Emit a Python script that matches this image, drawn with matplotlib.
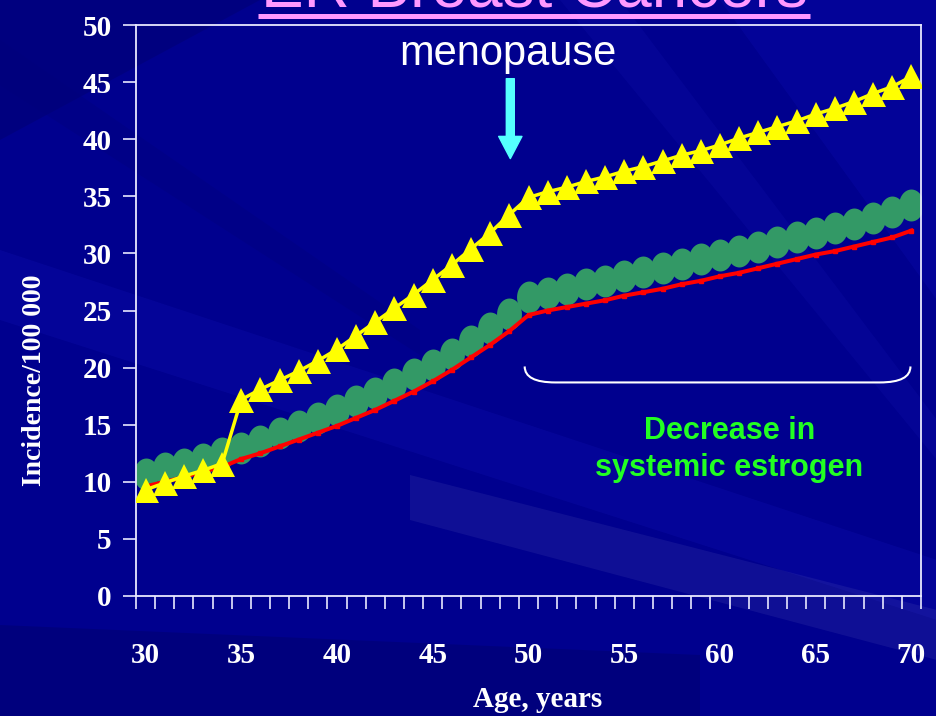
import matplotlib.pyplot as plt
import numpy as np
from matplotlib.path import Path
from matplotlib.patches import Polygon, PathPatch

# Incidence per 100 000 by age
ages = list(range(30, 71))
yellow_vals = [9.3, 9.9, 10.5, 11.0, 11.6, 17.2, 18.1, 18.9, 19.7, 20.6,
               21.6, 22.8, 24.0, 25.2, 26.4, 27.7, 29.0, 30.4, 31.8, 33.4,
               34.9, 35.4, 35.8, 36.3, 36.7, 37.2, 37.6, 38.1, 38.6, 39.0,
               39.5, 40.1, 40.6, 41.1, 41.6, 42.2, 42.7, 43.3, 44.0, 44.6, 45.5]
green_vals = [10.7, 11.2, 11.6, 12.0, 12.5, 13.0, 13.6, 14.3, 14.9, 15.6,
              16.3, 17.1, 17.8, 18.6, 19.4, 20.2, 21.2, 22.3, 23.5, 24.7,
              26.2, 26.5, 26.9, 27.3, 27.6, 28.0, 28.4, 28.7, 29.1, 29.5,
              29.9, 30.2, 30.6, 31.0, 31.4, 31.8, 32.2, 32.6, 33.1, 33.6, 34.2]
red_vals = [9.6, 10.0, 10.4, 10.9, 11.3, 12.0, 12.5, 13.1, 13.7, 14.3,
            14.9, 15.6, 16.3, 17.1, 17.9, 18.8, 19.8, 20.9, 22.0, 23.2,
            24.6, 25.0, 25.3, 25.6, 25.9, 26.3, 26.6, 26.9, 27.3, 27.6,
            28.0, 28.3, 28.7, 29.1, 29.5, 29.9, 30.2, 30.6, 31.0, 31.4, 32.0]

x_labels = [30, 35, 40, 45, 50, 55, 60, 65, 70]
y_ticks = list(range(0, 51, 5))

serif = {'family': 'Liberation Serif', 'weight': 'bold', 'color': 'white'}
BG = '#00008e'

fig = plt.figure(figsize=(9.37, 7.16), dpi=100)
fig.patch.set_facecolor(BG)

# slide background with faint diagonal rays (pixel coordinates)
bg = fig.add_axes([0, 0, 1, 1], zorder=-5)
bg.set_xlim(0, 937)
bg.set_ylim(716, 0)
bg.axis('off')
bg.add_patch(Polygon([(0, 0), (937, 0), (937, 716), (0, 716)], color=BG))
rays = [
    ([(0, 0), (260, 0), (0, 140)], '#000072', 0.5),
    ([(0, 250), (937, 560), (937, 620), (0, 320)], '#1010b0', 0.3),
    ([(410, 475), (937, 610), (937, 660), (410, 520)], '#7070c0', 0.14),
    ([(0, 625), (700, 655), (700, 716), (0, 716)], '#00006a', 0.45),
    ([(720, 0), (937, 0), (937, 300)], '#0a0aa8', 0.4),
    ([(560, 0), (620, 0), (937, 420), (937, 460)], '#1515b5', 0.2),
    ([(0, 40), (420, 330), (420, 355), (0, 85)], '#00007a', 0.35),
]
for pts, c, a in rays:
    bg.add_patch(Polygon(pts, closed=True, color=c, alpha=a, lw=0))

# title (cut off at the top of the slide) and its underline
fig.text(534 / 937, 1 - 8 / 716, 'ER Breast Cancers', ha='center', va='baseline',
         fontsize=46, family='Liberation Sans', color='#ff99ff')
bg.plot([258, 810], [16, 16], color='#ff99ff', lw=3.6, solid_capstyle='butt')

ax = fig.add_axes([136 / 937, 120 / 716, 785 / 937, 571 / 716])
ax.set_facecolor('none')

# tall ellipse marker for the green series
t = np.linspace(0, 2 * np.pi, 61)
ellipse = Path(np.column_stack([0.78 * np.cos(t), np.sin(t)]), closed=True)

ax.plot(ages, red_vals, color='#ff0000', lw=2.9, marker='s', ms=3.2, zorder=3)
ax.plot(ages, green_vals, color='#339966', lw=0, marker=ellipse, ms=23,
        markeredgewidth=0, zorder=2)
ax.plot(ages, yellow_vals, color='#ffff00', lw=2.5, marker='^', ms=18,
        markeredgewidth=0, zorder=4)

ax.set_xlim(29.5, 70.5)
ax.set_ylim(0, 50)

for s in ax.spines.values():
    s.set_color('#e8e8ff')
    s.set_linewidth(1.3)

ax.set_xticks(np.arange(29.5, 71, 1))
ax.set_xticklabels([])
ax.tick_params(axis='x', which='major', direction='out', length=9.4, width=1.2,
               color='#e8e8ff')
ax.set_xticks(x_labels, minor=True)
ax.set_xticklabels([str(v) for v in x_labels], minor=True, fontdict=serif,
                   fontsize=21)
ax.tick_params(axis='x', which='minor', length=0, pad=33)

ax.set_yticks(y_ticks)
ax.set_yticklabels([str(v) for v in y_ticks], fontdict=serif, fontsize=21)
ax.tick_params(axis='y', direction='out', length=9.4, width=1.2,
               color='#e8e8ff', pad=8)

ax.set_xlabel('Age, years', fontdict=serif, fontsize=21)
ax.xaxis.set_label_coords(0.511, -0.158)
ax.set_ylabel('Incidence/100 000', fontdict=serif, fontsize=20)
ax.yaxis.set_label_coords(-0.113, 0.378)

# menopause marker
ax.text(48.9, 47.45, 'menopause', ha='center', va='center', fontsize=30,
        family='Liberation Sans', color='white')
ax.annotate('', xy=(49.05, 38.3), xytext=(49.05, 45.3),
            arrowprops=dict(arrowstyle='simple,head_length=1.0,head_width=1.05,tail_width=0.36',
                            color='#55ffff', mutation_scale=16, shrinkA=0, shrinkB=0))

# bracket over the post-menopause years
x0, x1, yb, yt, dx = 49.8, 69.95, 18.7, 20.1, 1.6
brace = Path([(x0, yt), (x0, yb), (x0 + dx, yb), (x1 - dx, yb), (x1, yb), (x1, yt)],
             [Path.MOVETO, Path.CURVE3, Path.CURVE3, Path.LINETO, Path.CURVE3, Path.CURVE3])
ax.add_patch(PathPatch(brace, fill=False, edgecolor='white', lw=1.5))

ax.text(60.5, 12.85, 'Decrease in\nsystemic estrogen', ha='center', va='center',
        fontsize=22, family='Liberation Sans', weight='bold', color='#22ff22',
        linespacing=1.3)

fig.savefig('out.png', dpi=100, facecolor=fig.get_facecolor())
